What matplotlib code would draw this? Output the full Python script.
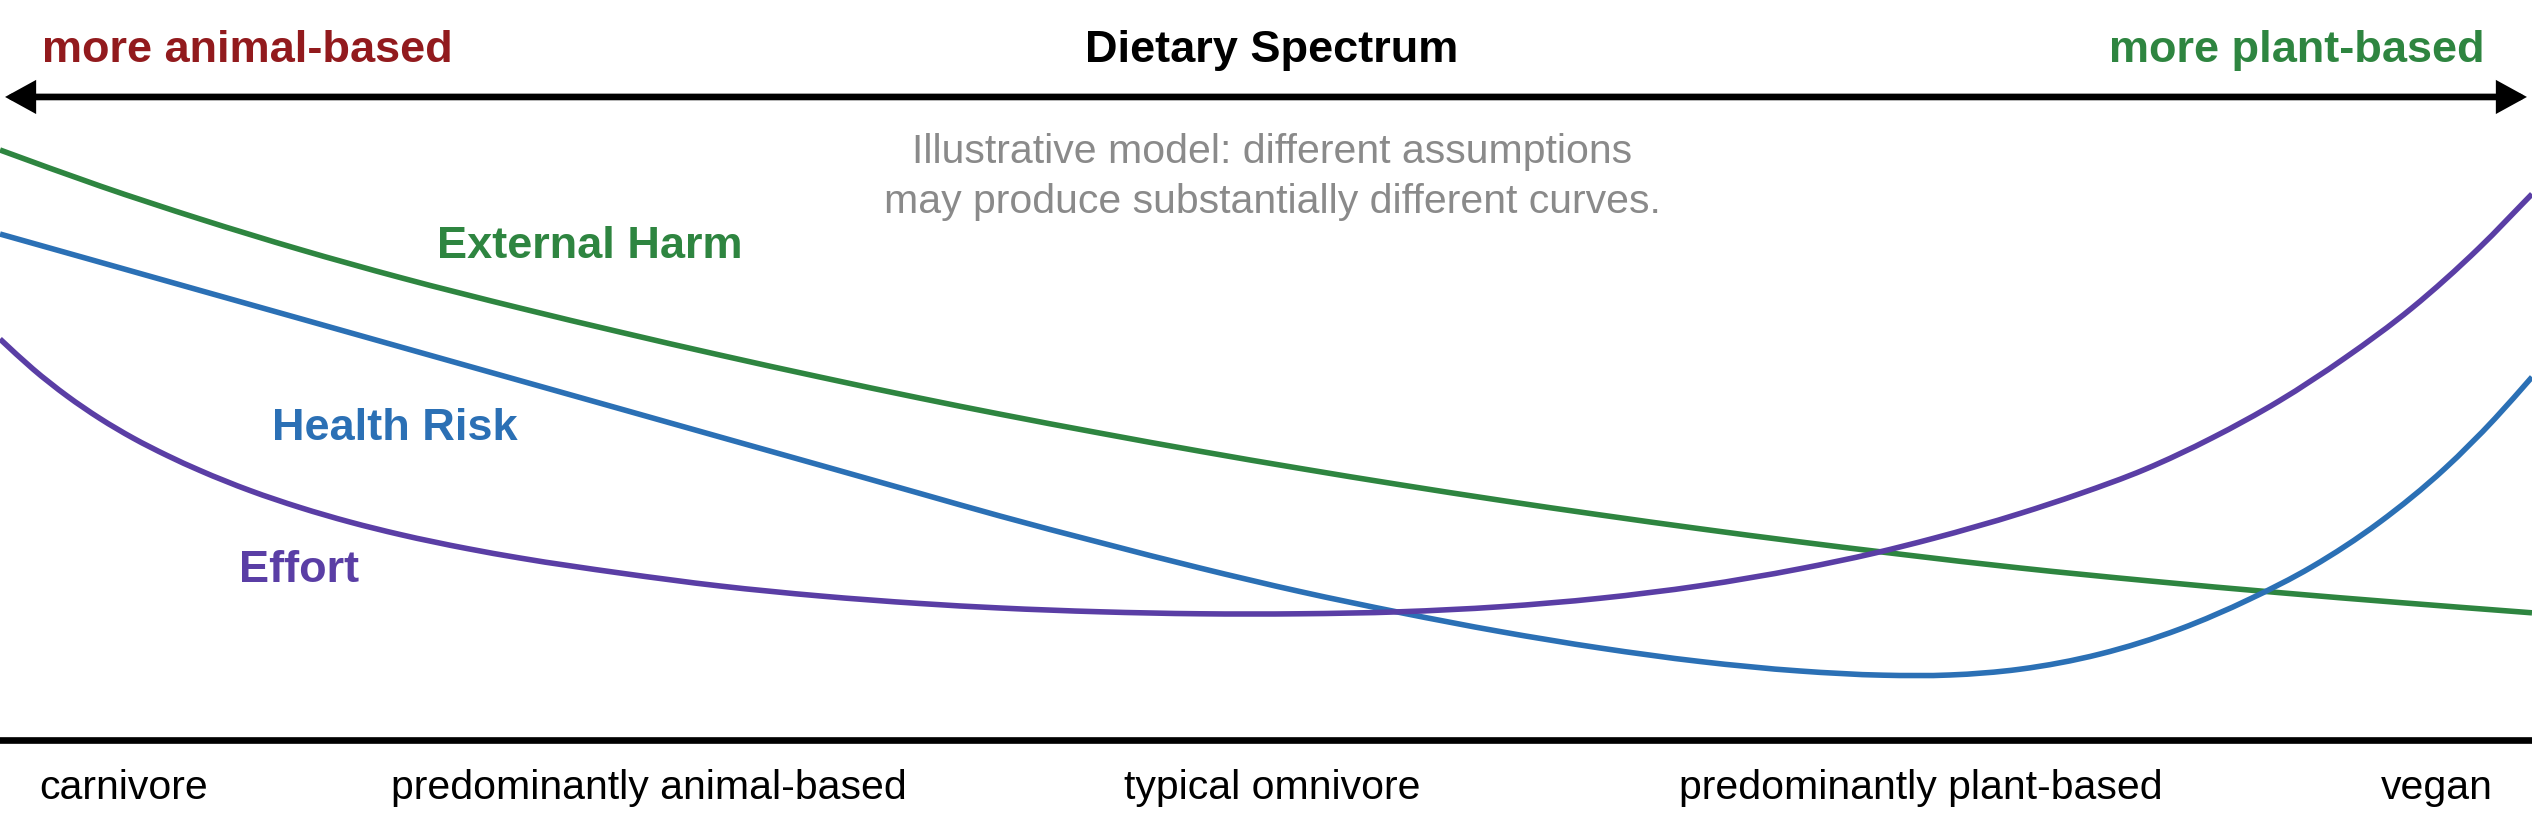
import matplotlib
matplotlib.use("Agg")
import matplotlib.pyplot as plt
from matplotlib.patches import FancyArrowPatch, ArrowStyle, PathPatch
from matplotlib.path import Path

plt.rcParams["font.family"] = ["Liberation Sans", "DejaVu Sans"]

# position along the spectrum (0 = carnivore, 100 = vegan) and relative level (0-100)
harm_x = [0, 3.95, 7.90, 11.85, 15.80, 20.54, 24.49, 28.44, 32.39, 36.33, 39.49, 43.44, 47.39,
          51.34, 55.29, 59.24, 63.19, 67.14, 71.09, 75.04, 79.78, 84.91, 90.01, 94.79, 100]
harm_y = [91.76, 86.16, 81.03, 76.28, 71.93, 67.17, 63.44, 59.86, 56.44, 53.17, 50.68, 47.73,
          44.91, 42.24, 39.70, 37.29, 35.01, 32.85, 30.81, 28.90, 26.75, 24.73, 22.92, 21.37, 19.78]

health_x = [0, 3.95, 7.90, 11.85, 15.80, 20.54, 24.49, 28.44, 32.39, 36.33, 39.49, 43.44, 47.39,
            51.34, 55.29, 59.24, 63.19, 67.14, 71.09, 74.37, 77.01, 79.78, 82.94, 86.10, 88.86,
            91.31, 93.96, 96.56, 98.54, 100]
health_y = [78.69, 74.31, 69.92, 65.54, 61.15, 55.89, 51.51, 47.12, 42.74, 38.35, 34.84, 30.72,
            26.75, 23.09, 19.83, 16.87, 14.31, 12.21, 10.73, 10.08, 10.11, 11.01, 13.37, 17.26,
            21.93, 26.94, 33.81, 42.22, 50.00, 56.45]

effort_x = [0, 1.30, 2.65, 3.95, 5.25, 6.60, 7.90, 9.87, 11.85, 13.82, 15.80, 18.44, 20.54,
            24.49, 28.44, 32.39, 36.33, 39.49, 43.44, 47.39, 51.34, 55.29, 59.24, 63.19, 67.14,
            71.09, 74.05, 76.34, 79.78, 82.11, 84.72, 87.36, 90.01, 92.61, 95.26, 97.91, 100]
effort_y = [62.36, 57.70, 53.50, 50.00, 46.97, 44.25, 41.91, 38.80, 36.16, 33.90, 31.96, 29.78,
            28.30, 25.97, 23.95, 22.40, 21.23, 20.53, 19.94, 19.63, 19.63, 19.94, 20.72, 22.04,
            23.98, 26.63, 29.08, 31.34, 35.23, 38.26, 42.10, 46.97, 52.72, 59.41, 67.19, 76.52,
            84.91]

diet_labels = ["carnivore", "predominantly animal-based", "typical omnivore",
               "predominantly plant-based", "vegan"]
diet_pos = [4.9, 25.63, 50.24, 75.87, 96.25]

GREEN = "#2e8540"
BLUE = "#2b70b5"
PURPLE = "#5a3ea5"
RED = "#921a1d"
GRAY = "#8a8a8a"


def smooth_path(xs, ys):
    # cubic Hermite through the read points, drawn as bezier segments
    n = len(xs)
    h = [xs[i + 1] - xs[i] for i in range(n - 1)]
    d = [(ys[i + 1] - ys[i]) / h[i] for i in range(n - 1)]
    m = [d[0]]
    for i in range(1, n - 1):
        m.append((h[i] * d[i - 1] + h[i - 1] * d[i]) / (h[i - 1] + h[i]))
    m.append(d[-1])
    verts = [(xs[0], ys[0])]
    codes = [Path.MOVETO]
    for i in range(n - 1):
        verts += [(xs[i] + h[i] / 3, ys[i] + m[i] * h[i] / 3),
                  (xs[i + 1] - h[i] / 3, ys[i + 1] - m[i + 1] * h[i] / 3),
                  (xs[i + 1], ys[i + 1])]
        codes += [Path.CURVE4] * 3
    return Path(verts, codes)


fig = plt.figure(figsize=(25.32, 8.33), dpi=100)

ax = fig.add_axes([0, 93 / 833, 1, 643 / 833])
ax.set_xlim(0, 100)
ax.set_ylim(0, 100)
for side in ("top", "left", "right"):
    ax.spines[side].set_visible(False)
ax.spines["bottom"].set_linewidth(4.8)
ax.spines["bottom"].set_color("black")
ax.set_xticks([])
ax.set_yticks([])

for xs, ys, col in [(harm_x, harm_y, GREEN), (health_x, health_y, BLUE),
                    (effort_x, effort_y, PURPLE)]:
    ax.add_patch(PathPatch(smooth_path(xs, ys), facecolor="none", edgecolor=col,
                           lw=4.0, capstyle="butt"))

ax.text(23.3, 75.0, "External Harm", color=GREEN, fontsize=32.5, fontweight="bold",
        ha="center", va="baseline")
ax.text(15.6, 46.7, "Health Risk", color=BLUE, fontsize=32.5, fontweight="bold",
        ha="center", va="baseline")
ax.text(11.8, 24.6, "Effort", color=PURPLE, fontsize=32.5, fontweight="bold",
        ha="center", va="baseline")

# header
fig.text(0.0166, 0.9256, "more animal-based", color=RED, fontsize=32.5, fontweight="bold",
         ha="left", va="baseline")
fig.text(0.5024, 0.9256, "Dietary Spectrum", color="black", fontsize=32.5, fontweight="bold",
         ha="center", va="baseline")
fig.text(0.9814, 0.9256, "more plant-based", color=GREEN, fontsize=32.5, fontweight="bold",
         ha="right", va="baseline")

arrow = FancyArrowPatch((0.002, 0.8836), (0.998, 0.8836), transform=fig.transFigure,
                        arrowstyle=ArrowStyle("<|-|>", head_length=1.0, head_width=0.55),
                        mutation_scale=15, lw=4.8, color="black",
                        shrinkA=0, shrinkB=0, joinstyle="miter")
fig.patches.append(arrow)

fig.text(0.5024, 0.8043, "Illustrative model: different assumptions", color=GRAY,
         fontsize=29.5, ha="center", va="baseline")
fig.text(0.5024, 0.7443, "may produce substantially different curves.", color=GRAY,
         fontsize=29.5, ha="center", va="baseline")

for lab, pos in zip(diet_labels, diet_pos):
    ax.text(pos, -9.2, lab, fontsize=29.5, ha="center", va="baseline", clip_on=False)

fig.savefig("out.png", dpi=100)
